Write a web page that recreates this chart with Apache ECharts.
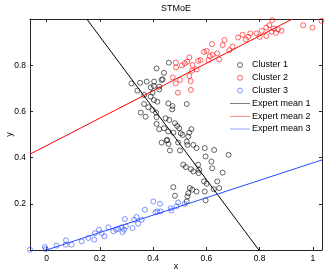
<!DOCTYPE html>
<html><head><meta charset="utf-8">
<script src="https://cdn.jsdelivr.net/npm/echarts@6/dist/echarts.min.js"></script>
<style>html,body{margin:0;padding:0;background:#fff}#c{width:327px;height:274px}</style>
</head><body><div id="c"></div>
<script>
const title = 'STMoE';
const seriesNames = ['Cluster 1','Cluster 2','Cluster 3','Expert mean 1','Expert mean 2','Expert mean 3'];
const colors = ['#000000','#ff0000','#2b4cff'];
const xTicks = [0,0.2,0.4,0.6,0.8,1];
const yTicks = [0.2,0.4,0.6,0.8];
const xRange = [-0.062, 1.034];
const yRange = [0, 1];

const c1x = [0.459,0.413,0.441,0.436,0.319,0.351,0.376,0.404,0.432,0.403,0.391,0.423,0.341,0.423,0.398,0.367,0.391,0.403,0.366,0.416,0.457,0.473,0.526,0.382,0.398,0.472,0.354,0.411,0.372,0.413,0.447,0.461,0.413,0.423,0.441,0.482,0.490,0.498,0.476,0.504,0.536,0.544,0.532,0.453,0.457,0.511,0.432,0.451,0.458,0.463,0.494,0.501,0.526,0.529,0.551,0.563,0.594,0.629,0.683,0.597,0.619,0.622,0.513,0.523,0.542,0.569,0.573,0.551,0.571,0.661,0.641,0.648,0.591,0.601,0.476,0.482,0.538,0.547,0.532,0.529,0.526,0.563,0.594,0.597,0.628];
const c1y = [0.811,0.786,0.767,0.739,0.721,0.724,0.729,0.729,0.736,0.710,0.704,0.707,0.690,0.695,0.681,0.671,0.664,0.649,0.632,0.642,0.635,0.623,0.632,0.618,0.606,0.609,0.595,0.595,0.577,0.575,0.570,0.563,0.546,0.523,0.527,0.549,0.537,0.527,0.508,0.505,0.508,0.523,0.491,0.477,0.513,0.498,0.465,0.474,0.459,0.431,0.465,0.431,0.469,0.455,0.455,0.441,0.441,0.433,0.412,0.405,0.383,0.354,0.369,0.359,0.350,0.369,0.347,0.340,0.333,0.335,0.297,0.268,0.297,0.287,0.272,0.235,0.268,0.261,0.246,0.232,0.210,0.253,0.253,0.215,0.263];

const c2x = [0.847,0.963,1.032,0.998,0.836,0.825,0.853,0.869,0.882,0.861,0.845,0.808,0.788,0.765,0.800,0.757,0.748,0.719,0.736,0.825,0.668,0.621,0.661,0.698,0.686,0.613,0.641,0.623,0.608,0.648,0.591,0.569,0.578,0.536,0.528,0.519,0.548,0.563,0.546,0.485,0.508,0.486,0.536,0.541,0.474,0.501,0.485,0.493,0.542,0.601];
const c2y = [0.995,0.973,0.992,0.963,0.973,0.963,0.959,0.955,0.949,0.940,0.945,0.949,0.938,0.938,0.923,0.923,0.911,0.920,0.932,0.926,0.909,0.891,0.887,0.880,0.865,0.839,0.851,0.845,0.822,0.825,0.858,0.819,0.822,0.834,0.815,0.808,0.801,0.782,0.776,0.811,0.799,0.790,0.753,0.731,0.747,0.736,0.721,0.681,0.693,0.862];

const c3x = [-0.062,-0.006,-0.003,0.038,0.073,0.072,0.094,0.132,0.157,0.179,0.182,0.197,0.207,0.217,0.232,0.251,0.261,0.269,0.282,0.291,0.294,0.298,0.285,0.323,0.329,0.338,0.344,0.357,0.369,0.401,0.409,0.416,0.426,0.428,0.466,0.469,0.488,0.494,0.519];
const c3y = [0.001,0.013,0.004,0.019,0.042,0.023,0.023,0.037,0.052,0.045,0.073,0.088,0.073,0.059,0.098,0.081,0.088,0.092,0.098,0.088,0.134,0.102,0.078,0.095,0.131,0.143,0.114,0.131,0.174,0.210,0.163,0.167,0.200,0.167,0.181,0.171,0.189,0.206,0.200];

const mean1x = [0.151, 0.797], mean1y = [1.0, 0.0];
const mean2x = [-0.062, 0.923], mean2y = [0.415, 1.0];
const mean3x = [0.0, 1.034], mean3y = [0.0, 0.39];

const zip = (a,b) => a.map((v,i)=>[v,b[i]]);
const FONT = 'Liberation Sans';
const axisCol = '#262626';
const LINE_ICON = 'path://M0 0H40V1H0Z';

function scatter(name, xs, ys, col){
  return {name, type:'scatter', xAxisIndex:0, yAxisIndex:0, data: zip(xs,ys),
    symbol:'circle', symbolSize:5,
    itemStyle:{color:'rgba(0,0,0,0)', borderColor:col, borderWidth:0.75},
    emphasis:{disabled:true}, animation:false};
}
function line(name, xs, ys, col){
  return {name, type:'line', xAxisIndex:0, yAxisIndex:0, data: zip(xs,ys),
    symbol:'none', showSymbol:false, lineStyle:{color:col, width:1}, itemStyle:{color:col},
    emphasis:{disabled:true}, animation:false, clip:true, z:3};
}
const baseX = {type:'value', min:xRange[0], max:xRange[1], minInterval:0.2, maxInterval:0.2, splitLine:{show:false}};
const baseY = {type:'value', min:yRange[0], max:yRange[1], minInterval:0.2, maxInterval:0.2, splitLine:{show:false}};

const chart = echarts.init(document.getElementById('c'), null, {renderer:'canvas'});
chart.setOption({
  animation:false,
  backgroundColor:'#fff',
  textStyle:{fontFamily:FONT},
  title:{text:title, left:176, top:4, padding:0, textAlign:'center',
    textStyle:{fontFamily:FONT, fontSize:9, fontWeight:'normal', color:'#000'}},
  grid:{left:30, right:5, top:19, bottom:24, containLabel:false, outerBoundsMode:'none'},
  legend:{orient:'vertical', left:230, top:60.5, padding:0, itemWidth:20, itemHeight:5, itemGap:3.8,
    textStyle:{fontFamily:FONT, fontSize:9, color:'#000', padding:[0,0,0,-3]},
    data:[
      {name:seriesNames[0], icon:'circle', itemStyle:{color:'rgba(0,0,0,0)', borderColor:colors[0], borderWidth:0.75}},
      {name:seriesNames[1], icon:'circle', itemStyle:{color:'rgba(0,0,0,0)', borderColor:colors[1], borderWidth:0.75}},
      {name:seriesNames[2], icon:'circle', itemStyle:{color:'rgba(0,0,0,0)', borderColor:colors[2], borderWidth:0.75}},
      {name:seriesNames[3], icon:LINE_ICON, itemStyle:{color:colors[0], borderWidth:0}},
      {name:seriesNames[4], icon:LINE_ICON, itemStyle:{color:colors[1], borderWidth:0}},
      {name:seriesNames[5], icon:LINE_ICON, itemStyle:{color:colors[2], borderWidth:0}}
    ]},
  xAxis:[
    Object.assign({}, baseX, {position:'bottom', name:'x', nameLocation:'middle', nameGap:12, nameMoveOverlap:false,
      nameTextStyle:{fontFamily:FONT, fontSize:9, color:'#000'},
      axisLine:{show:true, onZero:false, lineStyle:{color:axisCol, width:1}},
      axisTick:{show:true, inside:true, length:3, lineStyle:{color:axisCol}},
      axisLabel:{show:true, showMinLabel:false, showMaxLabel:false, fontFamily:FONT, fontSize:8.5, color:'#000', margin:4,
        formatter:v => xTicks.some(t=>Math.abs(t-v)<1e-9) ? String(+v.toFixed(2)) : ''}}),
    Object.assign({}, baseX, {position:'top',
      axisLine:{show:true, onZero:false, lineStyle:{color:axisCol, width:1}},
      axisTick:{show:true, inside:true, length:3, lineStyle:{color:axisCol}},
      axisLabel:{show:false}})
  ],
  yAxis:[
    Object.assign({}, baseY, {position:'left', name:'y', nameLocation:'middle', nameGap:16, nameRotate:90, nameMoveOverlap:false,
      nameTextStyle:{fontFamily:FONT, fontSize:9, color:'#000'},
      axisLine:{show:true, onZero:false, lineStyle:{color:axisCol, width:1}},
      axisTick:{show:true, inside:true, length:3, lineStyle:{color:axisCol}},
      axisLabel:{show:true, showMinLabel:false, showMaxLabel:false, fontFamily:FONT, fontSize:8.5, color:'#000', margin:4,
        formatter:v => yTicks.some(t=>Math.abs(t-v)<1e-9) ? String(+v.toFixed(2)) : ''}}),
    Object.assign({}, baseY, {position:'right',
      axisLine:{show:true, onZero:false, lineStyle:{color:axisCol, width:1}},
      axisTick:{show:true, inside:true, length:3, lineStyle:{color:axisCol}},
      axisLabel:{show:false}})
  ],
  series:[
    scatter(seriesNames[0], c1x, c1y, colors[0]),
    scatter(seriesNames[1], c2x, c2y, colors[1]),
    scatter(seriesNames[2], c3x, c3y, colors[2]),
    line(seriesNames[3], mean1x, mean1y, colors[0]),
    line(seriesNames[4], mean2x, mean2y, colors[1]),
    line(seriesNames[5], mean3x, mean3y, colors[2])
  ]
});
</script></body></html>
